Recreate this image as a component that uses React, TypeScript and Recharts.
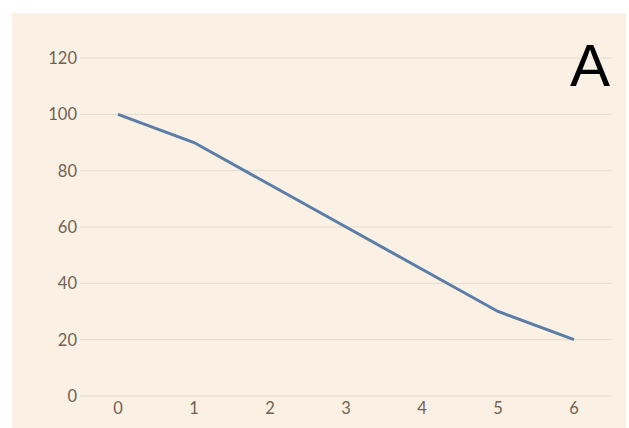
import React from 'react';
import { LineChart, Line, XAxis, YAxis, CartesianGrid } from 'recharts';

// x categories and the single series
const xLabels = ['0', '1', '2', '3', '4', '5', '6'];
const values = [100, 90, 75, 60, 45, 30, 20];
const yTicks = [0, 20, 40, 60, 80, 100, 120];

const data = xLabels.map((x, i) => ({ x, value: values[i] }));

const tickStyle = { fontSize: 16.5, fill: '#6f6356', fontFamily: 'Lato, "Noto Sans", sans-serif' };

const App: React.FC = () => {
  return (
    <div style={{ position: 'absolute', left: 0, top: 0, width: 629, height: 428, background: '#ffffff' }}>
      {/* beige panel */}
      <div style={{ position: 'absolute', left: 12, top: 13, width: 614, height: 415, background: '#FAF0E3' }} />
      <div style={{ position: 'absolute', left: 0, top: 0 }}>
        <LineChart
          width={629}
          height={428}
          data={data}
          margin={{ top: 58, right: 17, left: 0, bottom: 0 }}
        >
          <CartesianGrid vertical={false} stroke="#E5DCCF" strokeWidth={1} />
          <XAxis
            dataKey="x"
            height={32}
            padding={{ left: 38, right: 38 }}
            axisLine={false}
            tickLine={false}
            tickSize={0}
            tickMargin={6}
            tick={tickStyle}
            interval={0}
          />
          <YAxis
            width={80}
            domain={[0, 120]}
            ticks={yTicks}
            axisLine={false}
            tickLine={false}
            tickSize={0}
            tickMargin={3}
            tick={tickStyle}
          />
          <Line
            type="linear"
            dataKey="value"
            stroke="#5B7EA9"
            strokeWidth={3}
            dot={false}
            isAnimationActive={false}
          />
          <text
            x={610}
            y={86}
            textAnchor="end"
            fontSize={60}
            fill="#000000"
            fontFamily='"Liberation Sans", Arial, sans-serif'
          >
            A
          </text>
        </LineChart>
      </div>
    </div>
  );
};

export default App;
